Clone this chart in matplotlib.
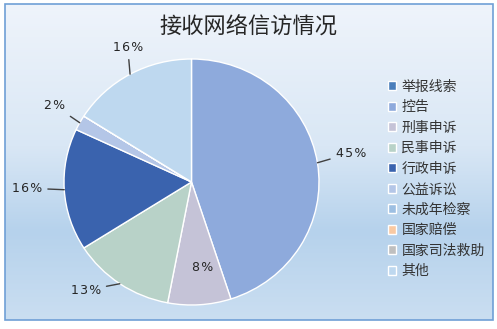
import numpy as np
import matplotlib
matplotlib.use("Agg")
import matplotlib.pyplot as plt
from matplotlib.patches import Rectangle
from matplotlib.colors import LinearSegmentedColormap

plt.rcParams['font.family'] = ['Noto Sans CJK SC', 'DejaVu Sans']

title = "接收网络信访情况"
categories = ["举报线索", "控告", "刑事申诉", "民事申诉", "行政申诉",
              "公益诉讼", "未成年检察", "国家赔偿", "国家司法救助", "其他"]
values = [0, 45, 8, 13, 16, 2, 0, 0, 0, 16]
colors = ["#4a7ebb", "#8eaadc", "#c5c3d7", "#b8d2c8", "#3a63ae",
          "#b4c6e7", "#9dbfe2", "#f9c9a2", "#bfbfbf", "#bed8ef"]

# label text positions (pie units) for the non-zero slices
label_pos = {1: (1.13, 0.235, 'left', 'center'),
             2: None,
             3: (-0.71, -0.88, 'right', 'center'),
             4: (-1.17, -0.05, 'right', 'center'),
             5: (-0.99, 0.62, 'right', 'center'),
             9: (-0.50, 1.04, 'center', 'bottom')}

W, H = 497, 329
fig = plt.figure(figsize=(W / 100, H / 100), dpi=100)

# background gradient + border
bg = fig.add_axes([0, 0, 1, 1])
bg.axis('off')
cmap = LinearSegmentedColormap.from_list(
    "bg", [(0, "#eff4fb"), (0.45, "#d9e7f5"), (0.72, "#b6d2ec"), (1, "#cadef1")])
grad = np.linspace(0, 1, 256).reshape(-1, 1)
bg.imshow(grad, cmap=cmap, aspect='auto', extent=(5, 493, 320, 4))
bg.add_patch(Rectangle((5, 4), 488, 316, fill=False, edgecolor="#6f9fd6", lw=1.2))
bg.set_xlim(0, W)
bg.set_ylim(H, 0)

bg.text(248, 27, title, ha='center', va='center', fontsize=16, color='#262626')

cx, cy, rx, ry = 191.5, 182, 127.5, 123
ax = fig.add_axes([(cx - rx) / W, (H - cy - ry) / H, 2 * rx / W, 2 * ry / H])
ax.patch.set_alpha(0)
wedges, _ = ax.pie(values, colors=colors, startangle=90, counterclock=False,
                   wedgeprops=dict(edgecolor='white', linewidth=1))
ax.set_aspect('auto')
ax.set_xlim(-1, 1)
ax.set_ylim(-1, 1)

for i, w in enumerate(wedges):
    if values[i] == 0:
        continue
    ang = np.deg2rad((w.theta1 + w.theta2) / 2)
    lab = "\u200a".join(f"{values[i]}%")
    pos = label_pos.get(i)
    if pos is None:
        ax.text(0.7 * np.cos(ang) + 0.04, 0.7 * np.sin(ang), lab, ha='center', va='center',
                fontsize=9, color='#262626', family='DejaVu Sans')
        continue
    tx, ty, ha, va = pos
    ax.annotate(lab, xy=(np.cos(ang), np.sin(ang)), xytext=(tx, ty), ha=ha, va=va,
                fontsize=9, color='#262626', family='DejaVu Sans',
                arrowprops=dict(arrowstyle='-', color='#404040', lw=1, shrinkA=2, shrinkB=0),
                annotation_clip=False)

leg = fig.legend(wedges, categories, loc='upper left', bbox_to_anchor=(382 / W, 1 - 74 / H),
                 frameon=False, fontsize=10, handlelength=0.6, handleheight=0.6,
                 handletextpad=0.4, labelspacing=0.47, borderaxespad=0)
for t in leg.get_texts():
    t.set_color('#333333')

fig.savefig("out.png", dpi=100)
